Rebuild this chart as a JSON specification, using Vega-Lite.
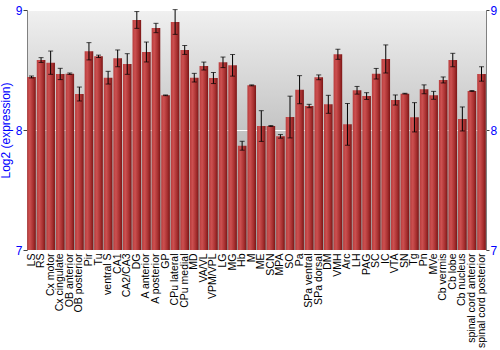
{
  "$schema": "https://vega.github.io/schema/vega-lite/v6.json",
  "autosize": {"type": "none"},
  "width": 459,
  "height": 240,
  "padding": {"left": 27, "top": 10, "right": 14, "bottom": 100},
  "background": "white",
  "config": {
    "view": {
      "stroke": "#808080",
      "strokeWidth": 1,
      "fill": {"gradient": "linear", "x1": 0, "y1": 0, "x2": 0, "y2": 1, "stops": [{"offset": 0, "color": "#f0f0f0"}, {"offset": 0.5, "color": "#c4c4c4"}, {"offset": 1, "color": "#9c9c9c"}]}
    },
    "font": "Liberation Sans"
  },
  "data": {"values": [
    {"name": "LS", "v": 8.442, "e": 0.008},
    {"name": "RS", "v": 8.583, "e": 0.02},
    {"name": "Cx motor", "v": 8.561, "e": 0.097},
    {"name": "Cx cingulate", "v": 8.467, "e": 0.047},
    {"name": "OB anterior", "v": 8.469, "e": 0.006},
    {"name": "OB posterior", "v": 8.30, "e": 0.058},
    {"name": "Pir", "v": 8.656, "e": 0.072},
    {"name": "Tu", "v": 8.614, "e": 0.01},
    {"name": "ventral S", "v": 8.436, "e": 0.053},
    {"name": "CA1", "v": 8.597, "e": 0.07},
    {"name": "CA2/CA3", "v": 8.55, "e": 0.086},
    {"name": "DG", "v": 8.917, "e": 0.07},
    {"name": "A anterior", "v": 8.65, "e": 0.083},
    {"name": "A posterior", "v": 8.85, "e": 0.039},
    {"name": "GP", "v": 8.289, "e": 0.003},
    {"name": "CPu lateral", "v": 8.90, "e": 0.103},
    {"name": "CPu medial", "v": 8.667, "e": 0.037},
    {"name": "MD", "v": 8.436, "e": 0.036},
    {"name": "VA/VL", "v": 8.533, "e": 0.033},
    {"name": "VPM/VPL", "v": 8.433, "e": 0.046},
    {"name": "LG", "v": 8.564, "e": 0.044},
    {"name": "MG", "v": 8.539, "e": 0.09},
    {"name": "Hb", "v": 7.869, "e": 0.037},
    {"name": "M", "v": 8.372, "e": 0.004},
    {"name": "ME", "v": 8.033, "e": 0.128},
    {"name": "SCN", "v": 8.033, "e": 0.004},
    {"name": "MPA", "v": 7.947, "e": 0.015},
    {"name": "SO", "v": 8.108, "e": 0.174},
    {"name": "Pa", "v": 8.336, "e": 0.117},
    {"name": "SPa ventral", "v": 8.20, "e": 0.014},
    {"name": "SPa dorsal", "v": 8.439, "e": 0.02},
    {"name": "DM", "v": 8.214, "e": 0.075},
    {"name": "VMH", "v": 8.631, "e": 0.042},
    {"name": "Arc", "v": 8.047, "e": 0.174},
    {"name": "LH", "v": 8.331, "e": 0.032},
    {"name": "PAG", "v": 8.283, "e": 0.028},
    {"name": "SC", "v": 8.469, "e": 0.044},
    {"name": "IC", "v": 8.592, "e": 0.117},
    {"name": "VTA", "v": 8.25, "e": 0.042},
    {"name": "SN", "v": 8.303, "e": 0.003},
    {"name": "Tg", "v": 8.106, "e": 0.122},
    {"name": "Pn", "v": 8.339, "e": 0.037},
    {"name": "MVe", "v": 8.289, "e": 0.033},
    {"name": "Cb vermis", "v": 8.417, "e": 0.025},
    {"name": "Cb lobe", "v": 8.583, "e": 0.056},
    {"name": "Cb nucleus", "v": 8.092, "e": 0.1},
    {"name": "spinal cord anterior", "v": 8.325, "e": 0.004},
    {"name": "spinal cord posterior", "v": 8.467, "e": 0.06}
  ]},
  "encoding": {
    "x": {
      "field": "name", "type": "nominal", "sort": null,
      "scale": {"paddingInner": 0.1, "paddingOuter": 0.02},
      "axis": {"title": null, "labelAngle": -90, "labelAlign": "right", "labelBaseline": "middle", "labelFontSize": 10.5, "labelColor": "black", "ticks": false, "domain": false, "labelPadding": 3, "labelOverlap": false}
    }
  },
  "layer": [
    {
      "mark": {"type": "bar", "clip": true,
        "fill": {"gradient": "linear", "x1": 0, "y1": 0, "x2": 1, "y2": 0, "stops": [{"offset": 0, "color": "#b83c3c"}, {"offset": 0.3, "color": "#cc5050"}, {"offset": 0.7, "color": "#a83030"}, {"offset": 1, "color": "#7a1616"}]}},
      "encoding": {
        "y": {"field": "v", "type": "quantitative",
          "scale": {"domain": [7, 9], "zero": false, "nice": false},
          "axis": {"orient": "left", "values": [7, 8, 9], "labelExpr": "format(datum.value, '.0f')", "labelOverlap": false, "title": "Log2 (expression)", "titleColor": "#0000ff", "titleFontSize": 12, "titleFontWeight": "normal", "titlePadding": 3, "labelColor": "#0000ff", "labelFontSize": 12, "tickColor": "#404040", "tickSize": 4, "domain": false, "grid": true, "gridColor": "white", "gridWidth": 1, "labelPadding": 1}
        }
      }
    },
    {
      "mark": {"type": "errorbar", "ticks": {"size": 5, "color": "black"}, "rule": {"color": "black"}},
      "encoding": {
        "y": {"field": "v", "type": "quantitative", "title": null,
          "axis": {"orient": "right", "values": [7, 8, 9], "labelExpr": "format(datum.value, '.0f')", "labelOverlap": false, "title": null, "labelColor": "#0000ff", "labelFontSize": 12, "tickColor": "#404040", "tickSize": 3, "domain": false, "grid": false, "labelPadding": 1}
        },
        "yError": {"field": "e"}
      }
    }
  ],
  "resolve": {"axis": {"y": "independent"}}
}
